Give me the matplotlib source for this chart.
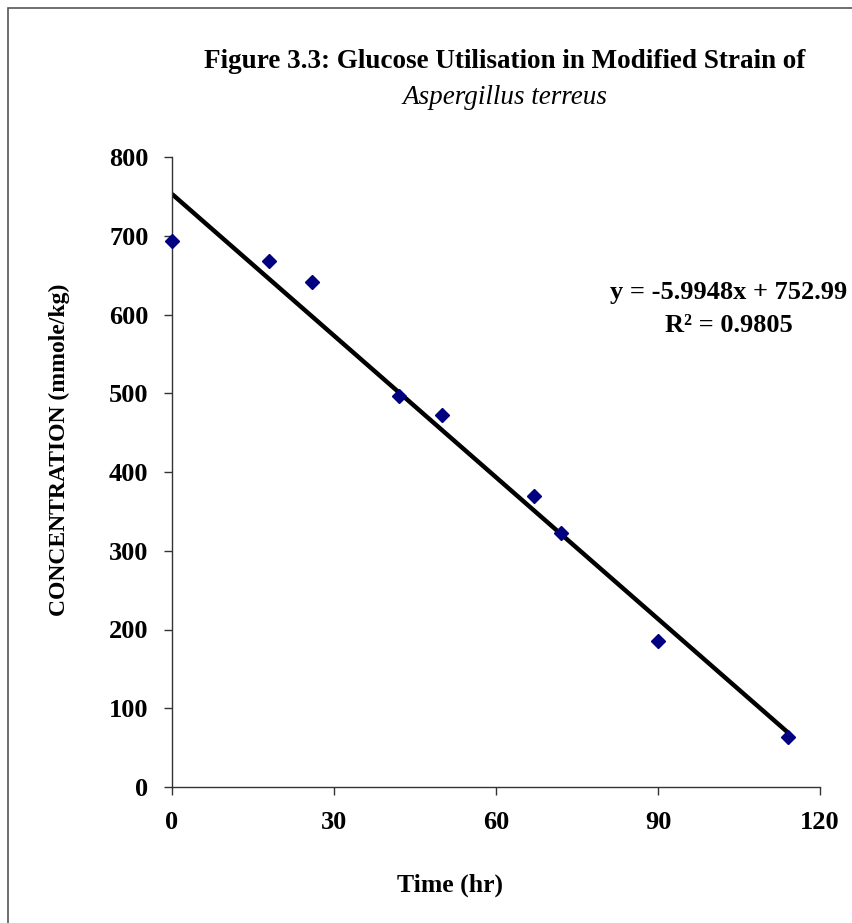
import matplotlib
matplotlib.use("Agg")
import matplotlib.pyplot as plt
from matplotlib.patches import Rectangle

# data
time_hr = [0, 18, 26, 42, 50, 67, 72, 90, 114]
conc = [693, 668, 641, 496, 473, 370, 322, 185, 63]
slope, intercept = -5.9948, 752.99
r2 = 0.9805
x_ticks = [0, 30, 60, 90, 120]
y_ticks = [0, 100, 200, 300, 400, 500, 600, 700, 800]

plt.rcParams['font.family'] = ['Liberation Serif', 'DejaVu Serif']
plt.rcParams['font.weight'] = 'bold'

fig = plt.figure(figsize=(8.53, 9.23), dpi=100)
fig.patches.append(Rectangle((8 / 853, -0.01), 1.0, 1 - 8 / 923 + 0.01,
                             transform=fig.transFigure, fill=False,
                             edgecolor='#555555', linewidth=1.2))

ax = fig.add_axes([172 / 853, 1 - 787 / 923, (820 - 172) / 853, (787 - 157) / 923])

x0, x1 = min(time_hr), max(time_hr)
ax.plot([x0, x1], [slope * x0 + intercept, slope * x1 + intercept],
        color='black', linewidth=3.2, zorder=2, solid_capstyle='butt')
ax.plot(time_hr, conc, linestyle='none', marker='D', markersize=7.5,
        color='#000080', zorder=3, clip_on=False)

ax.set_xlim(0, 120)
ax.set_ylim(0, 800)
ax.set_xticks(x_ticks)
ax.set_yticks(y_ticks)
for s in ['top', 'right']:
    ax.spines[s].set_visible(False)
for s in ['left', 'bottom']:
    ax.spines[s].set_color('#333333')
    ax.spines[s].set_linewidth(1.0)
ax.tick_params(direction='out', length=6, width=1, color='#333333',
               labelsize=19)
ax.tick_params(axis='x', pad=11)
ax.tick_params(axis='y', pad=11)
for lab in ax.get_xticklabels() + ax.get_yticklabels():
    lab.set_fontweight('bold')

ax.set_ylabel('CONCENTRATION (mmole/kg)', fontsize=17, fontweight='bold')
ax.yaxis.set_label_coords((70 - 172) / 648, 0.535)
fig.text(450 / 853, 1 - 885 / 923, 'Time (hr)',
         ha='center', va='center', fontsize=18.5, fontweight='bold')

fig.text(505 / 853, 1 - 61 / 923,
         'Figure 3.3: Glucose Utilisation in Modified Strain of',
         ha='center', va='center', fontsize=19.5, fontweight='bold')
fig.text(505 / 853, 1 - 97 / 923, 'Aspergillus terreus',
         ha='center', va='center', fontsize=19.5, style='italic',
         fontweight='normal')

fig.text(729 / 853, 1 - 293 / 923, f'y = {slope}x + {intercept}',
         ha='center', va='center', fontsize=19, fontweight='bold')
fig.text(729 / 853, 1 - 325 / 923, f'R² = {r2}',
         ha='center', va='center', fontsize=19, fontweight='bold')

fig.savefig('out.png', dpi=100)
